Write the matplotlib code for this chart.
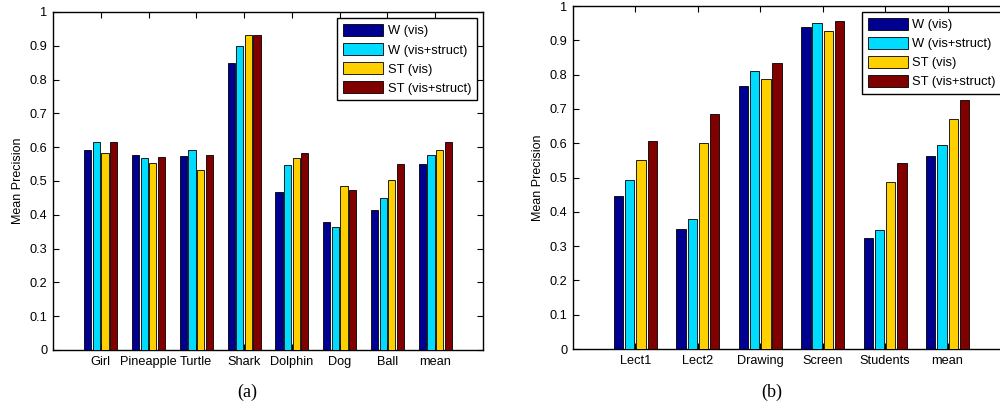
import numpy as np
import matplotlib
matplotlib.use("Agg")
import matplotlib.pyplot as plt

plt.rcParams['font.family'] = ['Liberation Sans', 'DejaVu Sans']

series = ['W (vis)', 'W (vis+struct)', 'ST (vis)', 'ST (vis+struct)']
colors = ['#000090', '#00DCFF', '#FFD000', '#800000']

# panel (a)
cats_a = ['Girl', 'Pineapple', 'Turtle', 'Shark', 'Dolphin', 'Dog', 'Ball', 'mean']
w_vis_a = [0.593, 0.576, 0.573, 0.849, 0.468, 0.380, 0.415, 0.550]
w_vs_a = [0.614, 0.569, 0.593, 0.898, 0.547, 0.363, 0.450, 0.576]
st_vis_a = [0.584, 0.553, 0.534, 0.931, 0.567, 0.485, 0.502, 0.593]
st_vs_a = [0.614, 0.572, 0.576, 0.931, 0.584, 0.473, 0.550, 0.614]

# panel (b)
cats_b = ['Lect1', 'Lect2', 'Drawing', 'Screen', 'Students', 'mean']
w_vis_b = [0.445, 0.350, 0.766, 0.939, 0.324, 0.564]
w_vs_b = [0.493, 0.380, 0.810, 0.950, 0.346, 0.596]
st_vis_b = [0.551, 0.600, 0.786, 0.927, 0.488, 0.670]
st_vs_b = [0.606, 0.684, 0.834, 0.956, 0.541, 0.725]


def grouped(ax, cats, data, legend_anchor, legend_loc):
    x = np.arange(1, len(cats) + 1)
    slot = 0.18
    for i, (vals, c, lab) in enumerate(zip(data, colors, series)):
        ax.bar(x + (i - 1.5) * slot, vals, width=0.15, color=c,
               edgecolor='black', linewidth=0.6, label=lab, zorder=3)
    ax.set_xlim(0, len(cats) + 1)
    ax.set_ylim(0, 1)
    ax.set_xticks(x)
    ax.set_xticklabels(cats)
    ax.set_yticks(np.arange(0, 1.01, 0.1))
    ax.set_yticklabels(['0'] + ['%.1f' % v for v in np.arange(0.1, 0.95, 0.1)] + ['1'])
    ax.tick_params(direction='in', top=True, right=True, labelsize=9.2,
                   length=4, width=0.8, pad=4)
    for s in ax.spines.values():
        s.set_linewidth(1.0)
    ax.set_ylabel('Mean Precision', fontsize=9, labelpad=4)
    leg = ax.legend(loc=legend_loc, bbox_to_anchor=legend_anchor, fontsize=9.3,
                    handlelength=3.1, handleheight=1.1, handletextpad=0.35,
                    labelspacing=0.42, borderpad=0.45, borderaxespad=0,
                    fancybox=False, framealpha=1)
    leg.get_frame().set_edgecolor('black')
    leg.get_frame().set_linewidth(1.0)


fig = plt.figure(figsize=(10, 4.04), dpi=100)
ax1 = fig.add_axes([0.053, 0.1337, 0.430, 0.8366])
ax2 = fig.add_axes([0.573, 0.1361, 0.437, 0.849])

grouped(ax1, cats_a, [w_vis_a, w_vs_a, st_vis_a, st_vs_a], (0.986, 0.982), 'upper right')
grouped(ax2, cats_b, [w_vis_b, w_vs_b, st_vis_b, st_vs_b], (0.661, 0.9825), 'upper left')

fig.text(0.247, 0.03, '(a)', family='Liberation Serif', fontsize=13, ha='center', va='center')
fig.text(0.772, 0.03, '(b)', family='Liberation Serif', fontsize=13, ha='center', va='center')

fig.savefig('out.png', dpi=100)
